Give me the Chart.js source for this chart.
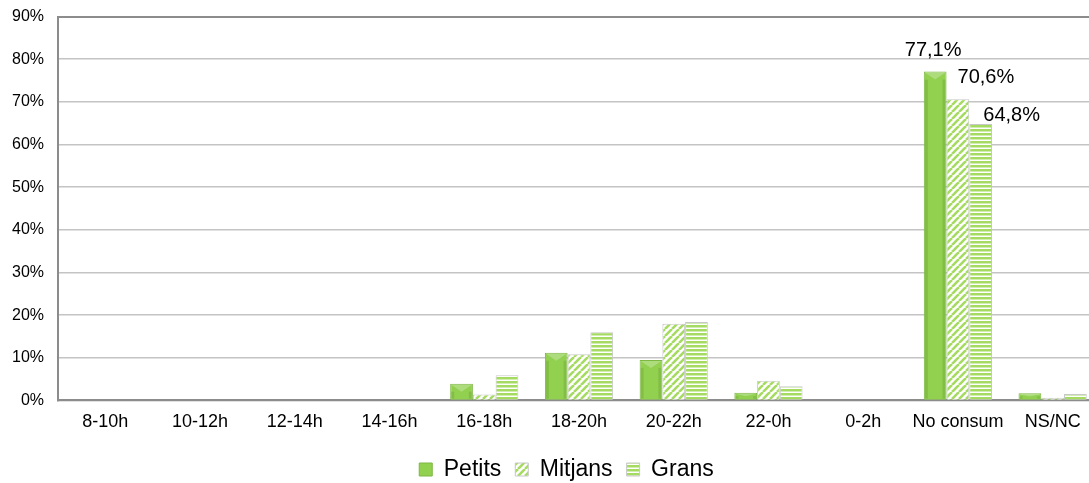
<!DOCTYPE html>
<html>
<head>
<meta charset="utf-8">
<script src="https://cdn.jsdelivr.net/npm/chart.js@4/dist/chart.umd.min.js"></script>
<style>
  html, body { margin: 0; padding: 0; background: #fff; overflow: hidden; }
  #wrap { width: 1133px; height: 490px; position: relative; margin-top: -7px; }
</style>
</head>
<body>
<div id="wrap"><canvas id="chart"></canvas></div>
<script>
// Categories (time slots) and percentages per company size
const categories = ['8-10h','10-12h','12-14h','14-16h','16-18h','18-20h','20-22h','22-0h','0-2h','No consum','NS/NC'];
const petits  = [0, 0, 0, 0, 3.9, 11.2, 9.5, 1.8, 0, 77.1, 1.7];
const mitjans = [0, 0, 0, 0, 1.4, 10.8, 18.0, 4.6, 0, 70.6, 0.6];
const grans   = [0, 0, 0, 0, 5.9, 16.0, 18.4, 3.3, 0, 64.8, 1.5];
const seriesNames = ['Petits', 'Mitjans', 'Grans'];
const yTicks = [0,10,20,30,40,50,60,70,80,90];
const labeledCategory = 'No consum';

const GREEN = '#a6db62';
const FONT = '"Liberation Sans", Arial, sans-serif';

// stripe patterns
function diagPattern(){
    const c = document.createElement('canvas');
    c.width = 7; c.height = 7;
    const g = c.getContext('2d');
    g.fillStyle = '#ffffff'; g.fillRect(0,0,7,7);
    g.strokeStyle = GREEN; g.lineWidth = 2.6;
    [-7, 0, 7].forEach(o => {
        g.beginPath();
        g.moveTo(o, 7);
        g.lineTo(o + 7, 0);
        g.stroke();
    });
    return g.createPattern(c, 'repeat');
}
function horizPattern(){
    const c = document.createElement('canvas');
    c.width = 4; c.height = 4;
    const g = c.getContext('2d');
    g.fillStyle = '#ffffff'; g.fillRect(0,0,4,4);
    g.fillStyle = GREEN; g.fillRect(0,0,4,2.5);
    return g.createPattern(c, 'repeat');
}

// data labels for one category, nudged like the original
const labelPlugin = {
    id: 'valueLabels',
    afterDatasetsDraw(chart){
        const idx = categories.indexOf(labeledCategory);
        const shifts = [[-2,16],[28,16],[31,3]];
        const ctx = chart.ctx;
        ctx.save();
        ctx.font = '20px ' + FONT;
        ctx.fillStyle = '#000';
        ctx.textAlign = 'center';
        ctx.textBaseline = 'alphabetic';
        chart.data.datasets.forEach((ds, di) => {
            const bar = chart.getDatasetMeta(di).data[idx];
            if(!bar) return;
            const txt = ds.data[idx].toFixed(1).replace('.', ',') + '%';
            ctx.fillText(txt, bar.x + shifts[di][0], bar.y - shifts[di][1]);
        });
        ctx.restore();
    }
};

// light bevel on the solid bars
const bevelPlugin = {
    id: 'bevel',
    afterDatasetsDraw(chart){
        const ctx = chart.ctx;
        const meta = chart.getDatasetMeta(0);
        ctx.save();
        meta.data.forEach(bar => {
            const h = bar.base - bar.y;
            if(h < 2) return;
            const l = bar.x - bar.width/2, r = bar.x + bar.width/2;
            const d = Math.min(bar.width/2, h/2, 8);
            ctx.fillStyle = 'rgba(255,255,255,0.25)';
            ctx.beginPath();
            ctx.moveTo(l+1, bar.y+1); ctx.lineTo(r-1, bar.y+1); ctx.lineTo(bar.x, bar.y + d); ctx.closePath();
            ctx.fill();
            ctx.fillStyle = 'rgba(60,110,20,0.18)';
            ctx.fillRect(l+1, bar.y + d, 3, h - d - 1);
            ctx.fillRect(r-4, bar.y + d, 3, h - d - 1);
        });
        ctx.restore();
    }
};

function init(){
    const fills = ['#92d050', diagPattern(), horizPattern()];
    const datasets = [petits, mitjans, grans].map((vals, i) => ({
        label: seriesNames[i],
        data: vals,
        backgroundColor: fills[i],
        borderColor: i === 0 ? '#7db843' : '#c8c8c8',
        borderWidth: 1,
        categoryPercentage: 0.72,
        barPercentage: 1.0
    }));

    new Chart(document.getElementById('chart'), {
        type: 'bar',
        data: { labels: categories, datasets: datasets },
        options: {
            responsive: true,
            maintainAspectRatio: false,
            animation: false,
            layout: { padding: { top: 0, right: 0, left: 0, bottom: -8 } },
            plugins: {
                legend: {
                    position: 'bottom',
                    labels: {
                        font: { size: 23, family: FONT },
                        color: '#000',
                        boxWidth: 13, boxHeight: 13,
                        padding: 14
                    }
                },
                tooltip: { enabled: false }
            },
            scales: {
                x: {
                    afterFit: s => { s.height += 8; },
                    grid: { display: false },
                    border: { display: true, color: '#8c8c8c', width: 2 },
                    ticks: {
                        color: '#000', padding: 3, maxRotation: 0, autoSkip: false,
                        font: { size: 18, family: FONT }
                    }
                },
                y: {
                    min: 0, max: 90,
                    afterFit: s => { s.width = 58; },
                    afterBuildTicks: s => { s.ticks = yTicks.map(v => ({ value: v })); },
                    grid: {
                        drawTicks: false,
                        color: c => c.tick && c.tick.value === 90 ? '#8c8c8c' : '#c4c4c4',
                        lineWidth: c => c.tick && c.tick.value === 90 ? 2 : 1.5
                    },
                    border: { display: true, color: '#8c8c8c', width: 2 },
                    ticks: {
                        color: '#000', padding: 14,
                        font: { size: 16, family: FONT },
                        callback: v => v + '%'
                    }
                },
                // empty spacer on the right; the plot runs past the visible edge like the original
                spacer: {
                    type: 'linear', position: 'right',
                    afterFit: s => { s.width = 33; },
                    grid: { display: false },
                    border: { display: false },
                    ticks: { display: false }
                }
            }
        },
        plugins: [bevelPlugin, labelPlugin]
    });
}

if (document.readyState !== 'loading') init(); else document.addEventListener('DOMContentLoaded', init);
</script>
</body>
</html>
